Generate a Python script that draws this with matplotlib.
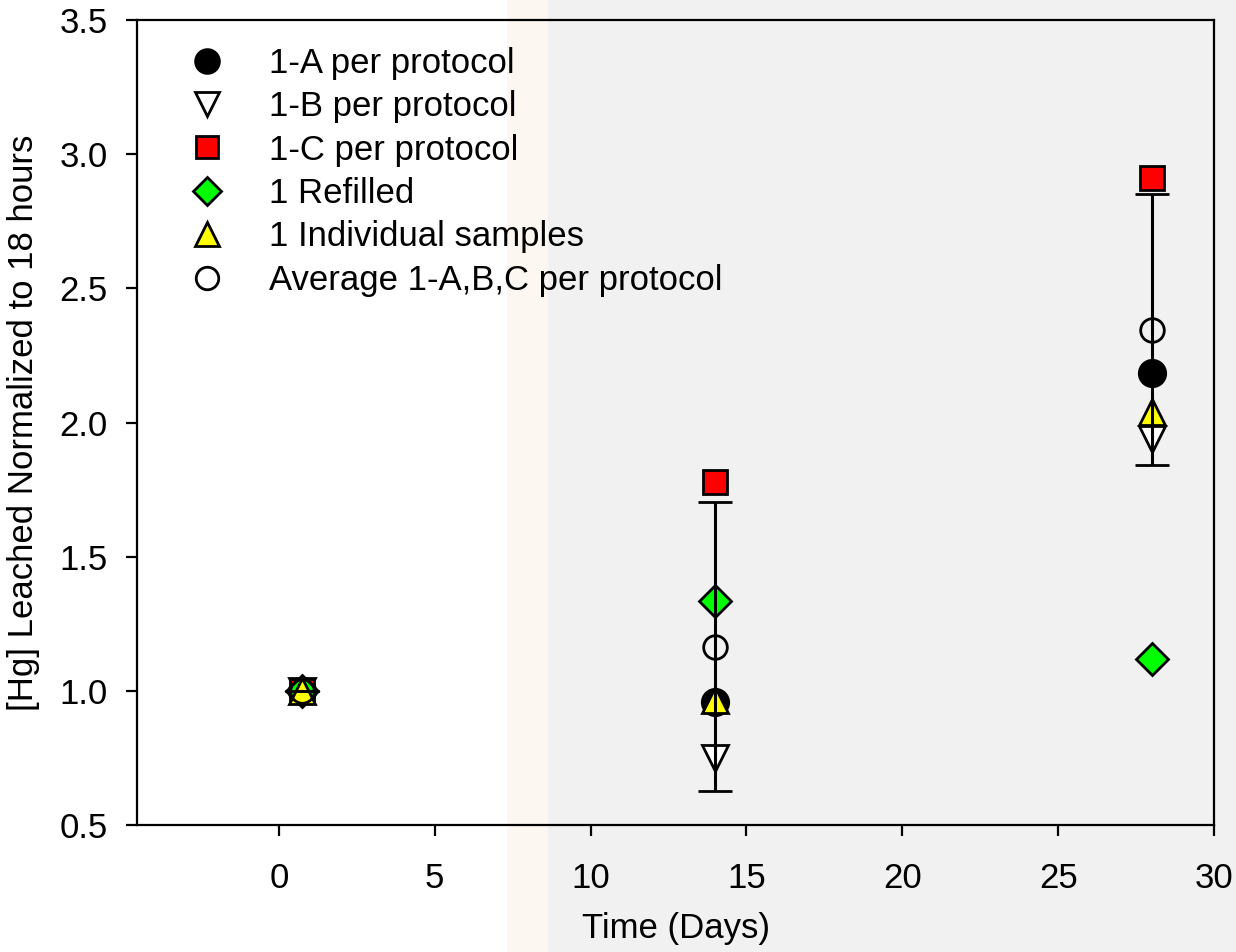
import numpy as np
import matplotlib.pyplot as plt
from matplotlib.patches import Rectangle
from matplotlib.lines import Line2D

days = [0.75, 14, 28]
a_protocol = [1.0, 0.96, 2.185]
b_protocol = [1.0, 0.75, 1.94]
c_protocol = [1.0, 1.78, 2.91]
refilled = [1.0, 1.335, 1.12]
individual = [1.0, 0.965, 2.04]
average = [1.0, 1.165, 2.345]
average_err = [0.0, 0.54, 0.505]

labels = ['1-A per protocol', '1-B per protocol', '1-C per protocol',
          '1 Refilled', '1 Individual samples', 'Average 1-A,B,C per protocol']

plt.rcParams['font.family'] = ['Liberation Sans', 'DejaVu Sans']
fs = 25

fig = plt.figure(figsize=(12.36, 9.52), dpi=100)
# faded background panel on the right
fig.patches.append(Rectangle((0.41, 0), 0.59, 1, transform=fig.transFigure,
                             facecolor='#f1f1f1', edgecolor='none', zorder=-10))
fig.patches.append(Rectangle((0.41, 0), 0.033, 1, transform=fig.transFigure,
                             facecolor='#fdf7f2', edgecolor='none', zorder=-9))

ax = fig.add_axes([137 / 1236, 1 - 825 / 952, (1214 - 137) / 1236, (825 - 20) / 952])
ax.set_facecolor('none')

ms = 19
mew = 2
ax.plot(days, a_protocol, 'o', ms=ms, mfc='black', mec='black', mew=mew, label=labels[0], zorder=3)
ax.plot(days, b_protocol, 'v', ms=ms, mfc='white', mec='black', mew=mew, label=labels[1], zorder=3)
ax.plot(days, c_protocol, 's', ms=ms - 2, mfc='#ff0000', mec='black', mew=mew, label=labels[2], zorder=3)
ax.plot(days, refilled, 'D', ms=ms - 3, mfc='#00ff00', mec='black', mew=mew, label=labels[3], zorder=3)
ax.plot(days, individual, '^', ms=ms, mfc='#ffff00', mec='black', mew=mew, label=labels[4], zorder=3)
ax.errorbar(days, average, yerr=average_err, fmt='o', ms=ms - 2, mfc='none', mec='black', mew=mew,
            ecolor='black', elinewidth=2.2, capsize=12, capthick=2.2, label=labels[5], zorder=4)

ax.set_xlim(-4.55, 30)
ax.set_ylim(0.5, 3.5)
ax.set_xticks([0, 5, 10, 15, 20, 25, 30])
ax.set_yticks([0.5, 1.0, 1.5, 2.0, 2.5, 3.0, 3.5])
ax.set_yticklabels(['0.5', '1.0', '1.5', '2.0', '2.5', '3.0', '3.5'])
ax.tick_params(direction='out', length=8, width=1.6, labelsize=fs)
ax.tick_params(axis='y', pad=13)
ax.tick_params(axis='x', pad=19)
for s in ax.spines.values():
    s.set_linewidth(1.6)

ax.set_xlabel('Time (Days)', fontsize=fs, labelpad=12)
ax.set_ylabel('[Hg] Leached Normalized to 18 hours', fontsize=fs, labelpad=14)

handles, labs = ax.get_legend_handles_labels()
handles[5] = Line2D([], [], ls='none', marker='o', ms=ms - 1, mfc='none', mec='black', mew=mew)
ax.legend(handles, labs, loc='upper left', frameon=False, fontsize=fs,
          handletextpad=0.78, labelspacing=0.3, borderaxespad=0.3, markerscale=0.9,
          bbox_to_anchor=(0.01, 0.997))

plt.savefig('out.png')
